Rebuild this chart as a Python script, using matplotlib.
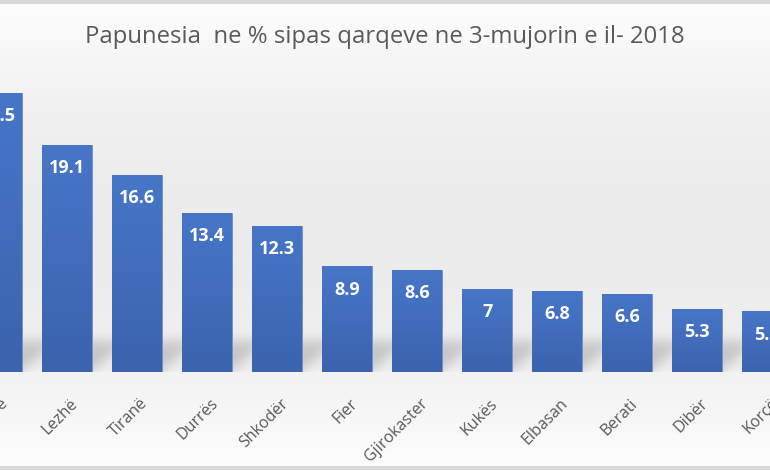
import numpy as np
import matplotlib.pyplot as plt

regions = ["Vlorë", "Lezhë", "Tiranë", "Durrës", "Shkodër", "Fier", "Gjirokaster",
           "Kukës", "Elbasan", "Berati", "Dibër", "Korçë"]
values = [23.5, 19.1, 16.6, 13.4, 12.3, 8.9, 8.6, 7, 6.8, 6.6, 5.3, 5.1]
labels = ["23.5", "19.1", "16.6", "13.4", "12.3", "8.9", "8.6", "7", "6.8", "6.6", "5.3", "5.1"]

plt.rcParams['font.family'] = ['Open Sans', 'DejaVu Sans']

fig = plt.figure(figsize=(7.7, 4.7), dpi=100)

# soft background gradient
bg = fig.add_axes([0, 0, 1, 1], zorder=0)
grad = np.linspace(0, 1, 256).reshape(-1, 1)
shade = 1 - 0.075 * np.sin(np.pi * grad) ** 0.8
bg.imshow(np.dstack([shade, shade, shade]), aspect='auto', extent=[0, 1, 0, 1])
bg.axhline(0.996, color='#d9d9d9', lw=3)
bg.axhline(0.004, color='#d9d9d9', lw=3)
bg.set_xlim(0, 1)
bg.set_ylim(0, 1)
bg.axis('off')

ax = fig.add_axes([0, 0.2085, 1, 0.632], zorder=1)
ax.patch.set_alpha(0)
x = np.arange(len(values))
w = 0.713
x0, x1 = 0.112, 10.88

# blurred floor shadows behind the bars
gx = np.linspace(x0, x1, 770)
gy = np.linspace(0, 5, 60)
X, Y = np.meshgrid(gx, gy)
mask = np.zeros_like(X)
for xi, v in zip(x, values):
    h = 2.6
    d = 0.5
    sx = X - d * Y / h
    inside = (Y <= h) & (sx >= xi - w / 2) & (sx <= xi + w / 2)
    mask[inside] = 1
k = np.exp(-0.5 * (np.arange(-15, 16) / 6.0) ** 2)
k /= k.sum()
mask = np.apply_along_axis(lambda r: np.convolve(r, k, mode='same'), 1, mask)
mask = np.apply_along_axis(lambda c: np.convolve(c, k, mode='same'), 0, mask)
shadow = np.zeros(X.shape + (4,))
shadow[..., :3] = 0.35
shadow[..., 3] = mask * 0.28
ax.imshow(shadow, origin='lower', extent=[x0, x1, 0, 5], aspect='auto',
          interpolation='bilinear', zorder=1)

bars = ax.bar(x, values, width=w, color='#4472C4', edgecolor='#6a90d2', linewidth=0.6, zorder=2)
top = np.array([0x47, 0x76, 0xC8]) / 255
bot = np.array([0x3B, 0x63, 0xAE]) / 255
for b, v in zip(bars, values):
    t = np.linspace(0, 1, 100).reshape(-1, 1, 1)
    img = bot + (top - bot) * t
    im = ax.imshow(img, origin='lower', aspect='auto', zorder=2.1,
                   extent=[b.get_x(), b.get_x() + w, 0, v])
    im.set_clip_path(b)
for xi, v, lab in zip(x, values, labels):
    ax.text(xi, v - 1.2, lab, ha='center', va='top', color='white',
            fontsize=13, fontweight='bold', zorder=3)

ax.set_xlim(x0, x1)
ax.set_ylim(0, 25)
ax.set_xticks(x + 0.04)
ax.set_xticklabels(regions, rotation=45, ha='right', va='top', rotation_mode='anchor',
                   fontsize=11.5, color='#595959')
ax.tick_params(axis='x', length=0, pad=17)
ax.set_yticks([])
for s in ax.spines.values():
    s.set_visible(False)

fig.text(0.5, 0.921, "Papunesia  ne % sipas qarqeve ne 3-mujorin e il- 2018",
         ha='center', va='center', fontsize=17.2, color='#595959')

fig.savefig('out.png', dpi=100)
